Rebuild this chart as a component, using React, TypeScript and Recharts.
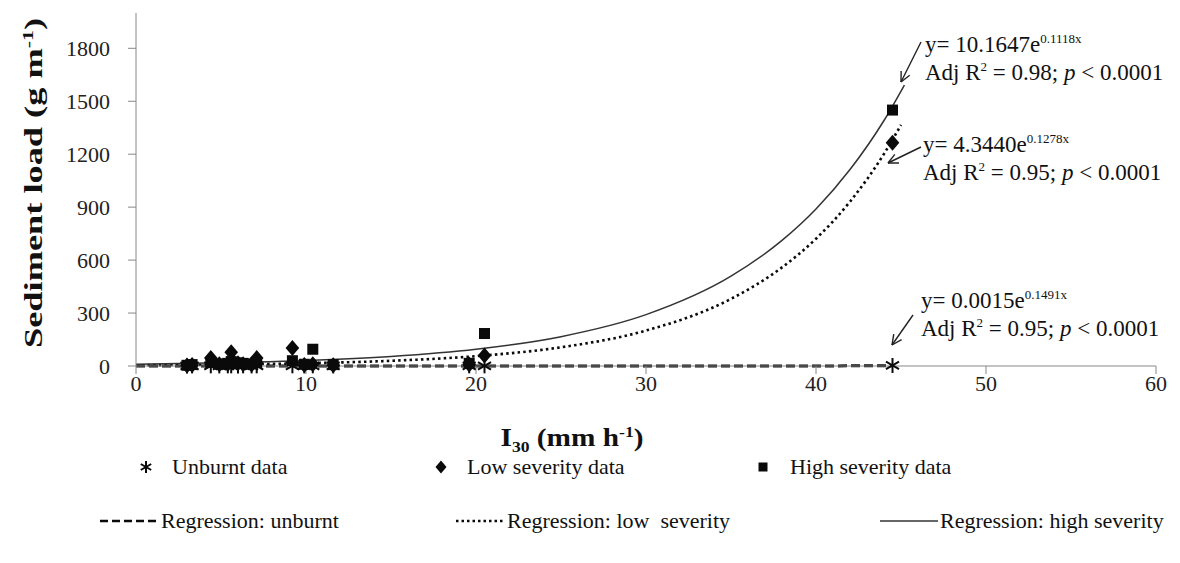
import React from "react";
import { ComposedChart, XAxis, YAxis, Scatter, Line, Legend } from "recharts";

// ---- Data ----
const eventI30 = [3.0, 3.3, 4.4, 4.9, 5.4, 5.6, 6.0, 6.3, 6.8, 7.1, 9.2, 9.9, 10.4, 11.6, 19.6, 20.5, 44.5];
const unburntLoad = [0.5, 0.5, 1, 0.5, 1, 1, 0.5, 1, 0.5, 1, 1, 0.5, 1, 0.5, 1, 1, 3];
const lowLoad = [3, 6, 45, 10, 12, 78, 15, 10, 8, 45, 102, 6, 10, 4, 8, 60, 1265];
const highLoad = [4, 8, 20, 12, 15, 25, 18, 15, 12, 20, 30, 10, 95, 8, 15, 184, 1450];

// fitted regression curves (values of the plotted curves)
const unburntFitI30 = [0, 10, 20, 30, 40, 44.5];
const unburntFitLoad = [0.0, 0.01, 0.03, 0.13, 0.58, 1.1];
const lowFitI30 = [0, 5, 10, 15, 20, 25, 30, 35, 38, 40, 42, 44, 45];
const lowFitLoad = [4.3, 8.2, 15.6, 29.5, 55.9, 106.0, 200.9, 380.5, 558.6, 721.2, 931.2, 1202, 1366];
const highFitI30 = [0, 5, 10, 15, 20, 25, 30, 35, 38, 40, 42, 44, 45.2];
const highFitLoad = [10.2, 17.8, 31.1, 54.4, 95.1, 166.3, 290.9, 508.8, 711.5, 889.6, 1113, 1391, 1592];

const xTicks = [0, 10, 20, 30, 40, 50, 60];
const yTicks = [0, 300, 600, 900, 1200, 1500, 1800];

const legendRow1 = ["Unburnt data", "Low severity data", "High severity data"];
const legendRow2 = ["Regression: unburnt", "Regression: low  severity", "Regression: high severity"];

const zip = (xs: number[], ys: number[]) => xs.map((x, i) => ({ x, y: ys[i] }));
const unburntPts = zip(eventI30, unburntLoad);
const lowPts = zip(eventI30, lowLoad);
const highPts = zip(eventI30, highLoad);
const unburntFit = zip(unburntFitI30, unburntFitLoad);
const lowFit = zip(lowFitI30, lowFitLoad);
const highFit = zip(highFitI30, highFitLoad);

const FONT = '"Liberation Serif", "Times New Roman", serif';
const INK = "#0a0a0a";

const Asterisk = ({ cx, cy, s = 7.5 }: any) => (
  <g stroke={INK} strokeWidth={2}>
    <line x1={cx} y1={cy - s} x2={cx} y2={cy + s} />
    <line x1={cx - s * 0.87} y1={cy - s * 0.5} x2={cx + s * 0.87} y2={cy + s * 0.5} />
    <line x1={cx - s * 0.87} y1={cy + s * 0.5} x2={cx + s * 0.87} y2={cy - s * 0.5} />
  </g>
);
const Diamond = ({ cx, cy, s = 8 }: any) => (
  <path d={`M${cx},${cy - s}L${cx + s * 0.85},${cy}L${cx},${cy + s}L${cx - s * 0.85},${cy}Z`} fill={INK} />
);
const Square = ({ cx, cy, s = 5.5 }: any) => (
  <rect x={cx - s} y={cy - s} width={2 * s} height={2 * s} fill={INK} />
);

const XTick = ({ x, y, payload }: any) => (
  <text x={x} y={y + 15} textAnchor="middle" fontFamily={FONT} fontSize={22} fill="#222">
    {payload.value}
  </text>
);
const YTick = ({ x, y, payload }: any) => (
  <text x={x} y={y + 8} textAnchor="end" fontFamily={FONT} fontSize={22} fill="#222">
    {payload.value}
  </text>
);

const LegendContent = () => {
  const txt = { fontFamily: FONT, fontSize: 22, fill: "#111" } as any;
  return (
    <svg width={1180} height={110} style={{ display: "block" }}>
      <Asterisk cx={146} cy={27} s={6} />
      <text x={172} y={34} {...txt}>{legendRow1[0]}</text>
      <Diamond cx={441} cy={27} s={6.5} />
      <text x={467} y={34} {...txt}>{legendRow1[1]}</text>
      <Square cx={763} cy={27} s={4.5} />
      <text x={790} y={34} {...txt}>{legendRow1[2]}</text>

      <line x1={100} y1={81} x2={160} y2={81} stroke={INK} strokeWidth={2.5} strokeDasharray="8 4" />
      <text x={161} y={88} {...txt}>{legendRow2[0]}</text>
      <line x1={456} y1={81} x2={505} y2={81} stroke={INK} strokeWidth={2.5} strokeDasharray="2.5 3" />
      <text x={507} y={88} {...txt} style={{ whiteSpace: "pre" }}>{legendRow2[1]}</text>
      <line x1={880} y1={81} x2={938} y2={81} stroke="#333" strokeWidth={1.5} />
      <text x={940} y={88} {...txt}>{legendRow2[2]}</text>
    </svg>
  );
};

const Arrow = ({ x1, y1, x2, y2 }: any) => {
  const a = Math.atan2(y2 - y1, x2 - x1);
  const L = 11;
  const w = 0.45;
  return (
    <g stroke="#222" strokeWidth={1.4} fill="none">
      <line x1={x1} y1={y1} x2={x2} y2={y2} />
      <line x1={x2} y1={y2} x2={x2 - L * Math.cos(a - w)} y2={y2 - L * Math.sin(a - w)} />
      <line x1={x2} y1={y2} x2={x2 - L * Math.cos(a + w)} y2={y2 - L * Math.sin(a + w)} />
    </g>
  );
};

const Equation = ({ x, y, coef, exp, r2 }: any) => (
  <g fontFamily={FONT} fill="#111">
    <text x={x} y={y} fontSize={23}>
      {`y= ${coef}e`}
      <tspan fontSize={13} dy={-9}>{exp}</tspan>
    </text>
    <text x={x} y={y + 28} fontSize={23}>
      {"Adj R"}
      <tspan fontSize={13} dy={-9}>2</tspan>
      <tspan dy={9}>{` = ${r2}; `}</tspan>
      <tspan fontStyle="italic">p</tspan>
      {" < 0.0001"}
    </text>
  </g>
);

export default function App() {
  return (
    <div style={{ position: "absolute", left: 0, top: 0, width: 1180, height: 563, background: "#fff" }}>
      <ComposedChart
        width={1180}
        height={563}
        margin={{ top: 13, right: 24, left: 0, bottom: 0 }}
      >
        <XAxis
          type="number"
          dataKey="x"
          domain={[0, 60]}
          ticks={xTicks}
          stroke="#888"
          tickLine={{ stroke: "#888" }}
          tickSize={8}
          height={197}
          tick={<XTick />}
        />
        <YAxis
          type="number"
          dataKey="y"
          domain={[0, 2000]}
          ticks={yTicks}
          stroke="#888"
          tickLine={{ stroke: "#888" }}
          tickSize={8}
          width={136}
          tickMargin={18}
          tick={<YTick />}
        />
        <Line data={unburntFit} dataKey="y" type="monotone" stroke={INK} strokeWidth={3} strokeDasharray="9 4" dot={false} isAnimationActive={false} name="Regression: unburnt" />
        <Line data={lowFit} dataKey="y" type="monotone" stroke={INK} strokeWidth={2.6} strokeDasharray="2.5 3.2" dot={false} isAnimationActive={false} name="Regression: low severity" />
        <Line data={highFit} dataKey="y" type="monotone" stroke="#333" strokeWidth={1.5} dot={false} isAnimationActive={false} name="Regression: high severity" />
        <Scatter data={unburntPts} dataKey="y" shape={(p: any) => <Asterisk cx={p.cx} cy={p.cy} />} isAnimationActive={false} name="Unburnt data" />
        <Scatter data={lowPts} dataKey="y" shape={(p: any) => <Diamond cx={p.cx} cy={p.cy} />} isAnimationActive={false} name="Low severity data" />
        <Scatter data={highPts} dataKey="y" shape={(p: any) => <Square cx={p.cx} cy={p.cy} />} isAnimationActive={false} name="High severity data" />
        <Legend
          layout="horizontal"
          verticalAlign="middle"
          align="center"
          content={<LegendContent />}
          wrapperStyle={{ position: "absolute", left: 0, top: 440, width: 1180, height: 110 }}
        />
      </ComposedChart>
      <svg width={1180} height={563} style={{ position: "absolute", left: 0, top: 0, pointerEvents: "none" }}>
        <text
          transform="translate(42,183) rotate(-90)"
          textAnchor="middle"
          fontFamily={FONT}
          fontWeight="bold"
          fontSize={25}
          fill="#111"
          textLength={330}
          lengthAdjust="spacingAndGlyphs"
        >
          Sediment load (g m
          <tspan fontSize={15} dy={-9}>-1</tspan>
          <tspan dy={9}>)</tspan>
        </text>
        <text
          x={572}
          y={446}
          textAnchor="middle"
          fontFamily={FONT}
          fontWeight="bold"
          fontSize={25}
          fill="#111"
          textLength={143}
          lengthAdjust="spacingAndGlyphs"
        >
          I
          <tspan fontSize={15} dy={6}>30</tspan>
          <tspan dy={-6}> (mm h</tspan>
          <tspan fontSize={15} dy={-9}>-1</tspan>
          <tspan dy={9}>)</tspan>
        </text>
        <Equation x={925} y={52} coef="10.1647" exp="0.1118x" r2="0.98" />
        <Arrow x1={921} y1={42} x2={901} y2={82} />
        <Equation x={923} y={152} coef="4.3440" exp="0.1278x" r2="0.95" />
        <Arrow x1={921} y1={147} x2={888} y2={163} />
        <Equation x={921} y={308} coef="0.0015" exp="0.1491x" r2="0.95" />
        <Arrow x1={913} y1={315} x2={892} y2={345} />
      </svg>
    </div>
  );
}
